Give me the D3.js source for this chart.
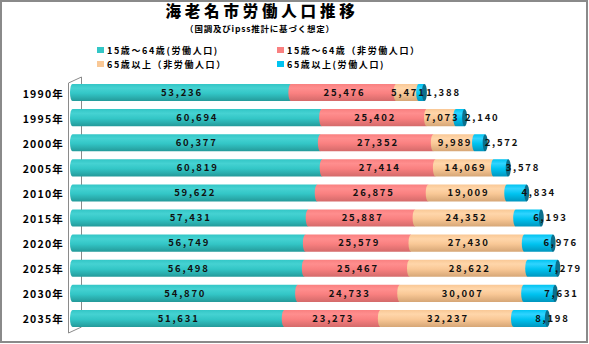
<!DOCTYPE html>
<html><head><meta charset="utf-8">
<script src="https://cdn.jsdelivr.net/npm/d3@7/dist/d3.min.js"></script>
<style>
html,body{margin:0;padding:0;background:#fff;}
svg{display:block;font-family:"Noto Sans CJK JP","Noto Sans",sans-serif;}
</style></head>
<body>
<svg id="chart" width="589" height="344"></svg>
<script>
const title = "海老名市労働人口推移";
const subtitle = "（国調及びipss推計に基づく想定）";
const years = ["1990年","1995年","2000年","2005年","2010年","2015年","2020年","2025年","2030年","2035年"];
const seriesNames = ["15歳～64歳(労働人口)","15歳～64歳（非労働人口）","65歳以上（非労働人口）","65歳以上(労働人口)"];
const workingAge = [53236,60694,60377,60819,59622,57431,56749,56498,54870,51631];
const workingAgeNon = [25476,25402,27352,27414,26875,25887,25579,25467,24733,23273];
const elderlyNon = [5471,7073,9989,14069,19009,24352,27430,28622,30007,32237];
const elderlyWork = [1388,2140,2572,3578,4834,6193,6976,7279,7631,8198];
const seriesValues = [workingAge, workingAgeNon, elderlyNon, elderlyWork];
const colors = [
  {top:"#45D2D2", mid:"#33C6C6", bot:"#249A9A"},
  {top:"#FF8E8E", mid:"#F98080", bot:"#D46A6A"},
  {top:"#FFD6AA", mid:"#F9C896", bot:"#D6A676"},
  {top:"#30D4FF", mid:"#00C3F0", bot:"#0096BE"}
];
const capColor = "#0B6F8C";

const svg = d3.select("#chart");
const defs = svg.append("defs");
colors.forEach((c,i)=>{
  const g = defs.append("linearGradient").attr("id","g"+i).attr("x1",0).attr("y1",0).attr("x2",0).attr("y2",1);
  g.append("stop").attr("offset","0%").attr("stop-color",c.mid);
  g.append("stop").attr("offset","25%").attr("stop-color",c.top);
  g.append("stop").attr("offset","55%").attr("stop-color",c.mid);
  g.append("stop").attr("offset","100%").attr("stop-color",c.bot);
});

// frame
svg.append("rect").attr("x",1).attr("y",1).attr("width",586).attr("height",341)
  .attr("fill","#fff").attr("stroke","#8a8a8a").attr("stroke-width",2);

// titles
svg.append("text").attr("x",262).attr("y",16.5).attr("text-anchor","middle")
  .attr("font-size",15.5).attr("font-weight",900).attr("letter-spacing","3.8px").text(title);
svg.append("text").attr("x",260).attr("y",32).attr("text-anchor","middle")
  .attr("font-size",8.5).attr("font-weight",700).attr("letter-spacing","0.8px").text(subtitle);

// legend
const legendPos = [[97,47],[277,47],[97,61],[277,61]];
seriesNames.forEach((n,i)=>{
  const [lx,ly] = legendPos[i];
  svg.append("rect").attr("x",lx).attr("y",ly).attr("width",7).attr("height",6).attr("fill",colors[i].mid);
  svg.append("text").attr("x",lx+10).attr("y",ly+6.5).attr("font-size",9).attr("font-weight",700)
    .attr("letter-spacing","1.6px").text(n);
});

// scales
const x = d3.scaleLinear().domain([0,120000]).range([71, 71+120000*0.00413]);
const y = d3.scaleBand().domain(years).range([80,331]).paddingInner(0.32).paddingOuter(0.16);

// 3D wall
const wall = svg.append("g").attr("stroke","#8a8a8a").attr("fill","none").attr("stroke-width",1);
wall.append("path").attr("d",`M68.5,333 L68.5,83 L81.5,77 L81.5,327 L68.5,333`);

// axis labels
const yAxis = d3.axisLeft(y).tickSize(0).tickPadding(0);
const ag = svg.append("g").attr("transform","translate(64,0)").call(yAxis);
ag.select(".domain").remove();
ag.selectAll("text").attr("font-size",10.5).attr("font-weight",700).attr("fill","#000")
  .attr("letter-spacing","1.2px").attr("dy","0.62em").attr("y",-1.5)
  .style("font-family","'Noto Sans CJK JP',sans-serif");

// stacked data
const stacked = years.map((yr,j)=>{
  let acc=0;
  return seriesValues.map((s,i)=>{ const a=acc; acc+=s[j]; return {yr, i, v:s[j], x0:a, x1:acc}; });
});

const h = y.bandwidth();
const rx = 2.5;
const bars = svg.append("g");
stacked.forEach(row=>{
  const g = bars.append("g");
  row.forEach(d=>{
    const X0 = x(d.x0), X1 = x(d.x1), top = y(d.yr), bot = top+h;
    const left = d.i===0 ? X0+1.5 : X0;
    g.append("path")
      .attr("d",`M${X1},${top} L${left},${top} A${rx},${h/2} 0 0 0 ${left},${bot} L${X1},${bot} Z`)
      .attr("fill",`url(#g${d.i})`);
  });
  const last = row[row.length-1];
  const ex = x(last.x1), top = y(last.yr);
  g.append("ellipse").attr("cx",ex).attr("cy",top+h/2).attr("rx",rx).attr("ry",h/2).attr("fill",capColor);
  // labels
  row.forEach(d=>{
    const cx = (x(d.x0)+x(d.x1))/2 + (d.i===3 ? 21 : 0);
    g.append("text").attr("x",cx+1).attr("y",top+h/2+3.3).attr("text-anchor","middle")
      .attr("font-size",9.5).attr("font-weight",700).attr("letter-spacing","1.8px").attr("fill","#111")
      .text(d3.format(",")(d.v));
  });
});
</script>
</body></html>
